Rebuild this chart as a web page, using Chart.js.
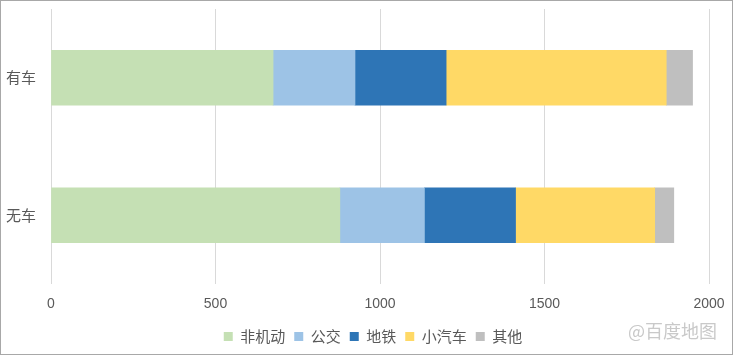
<!DOCTYPE html>
<html>
<head>
<meta charset="utf-8">
<script src="https://cdn.jsdelivr.net/npm/chart.js@4"></script>
<style>
	body { margin: 0; background: #fff; }
	#wrap { position: relative; width: 733px; height: 355px; box-sizing: border-box; border: 1px solid #a8a8a8; }
	#mark { position: absolute; left: 627px; top: 316px; font: 18px "Noto Sans CJK SC"; color: #c9c9c9; }
</style>
</head>
<body>
<div id="wrap">
	<canvas id="mycanvas" width="731" height="353"></canvas>
	<div id="mark">@百度地图</div>
</div>
<script>
var categories = ['有车', '无车'];
var seriesNames = ['非机动', '公交', '地铁', '小汽车', '其他'];
var nonMotor = [675, 878];
var bus = [249, 257];
var metro = [277, 277];
var car = [669, 423];
var other = [80, 58];
var xTicks = [0, 500, 1000, 1500, 2000];

var colors = ['#C5E0B4', '#9DC3E6', '#2E75B6', '#FFD966', '#BFBFBF'];
var values = [nonMotor, bus, metro, car, other];

var datasets = [];
for (var i in seriesNames) {
	datasets.push({
		label: seriesNames[i],
		data: values[i],
		backgroundColor: colors[i],
		borderWidth: 0,
		barThickness: 55
	});
}

var font = { family: '"Noto Sans CJK SC", "Noto Sans", sans-serif', size: 15 };

// nudge the legend right a bit, like the original
var legendShift = {
	id: 'legendShift',
	afterLayout: function(chart) {
		chart.legend.left += 18;
		chart.legend.right += 18;
	}
};

var ctx = document.getElementById('mycanvas');
var barGraph = new Chart(ctx, {
	type: 'bar',
	data: { labels: categories, datasets: datasets },
	plugins: [legendShift],
	options: {
		indexAxis: 'y',
		responsive: false,
		animation: false,
		layout: { padding: { left: 0, right: 23, top: 8, bottom: 0 } },
		plugins: {
			tooltip: { enabled: false },
			legend: {
				position: 'bottom',
				labels: { boxWidth: 9, boxHeight: 9, padding: 9, color: '#595959', font: font }
			}
		},
		scales: {
			x: {
				stacked: true,
				min: 0,
				max: 2000,
				afterBuildTicks: function(scale) {
					scale.ticks = xTicks.map(function(v) { return { value: v }; });
				},
				afterFit: function(scale) {
					scale.height = 36;
					scale.paddingLeft = 0;
					scale.paddingRight = 0;
				},
				grid: { color: '#d9d9d9', drawTicks: false },
				border: { display: false },
				ticks: {
					color: '#595959', padding: 12,
					font: { family: '"Liberation Sans Narrow", "Liberation Sans", sans-serif', size: 14 },
					callback: function(v) { return String(v); }
				}
			},
			y: {
				stacked: true,
				afterFit: function(scale) {
					scale.width = 50;
					scale.paddingTop = 0;
					scale.paddingBottom = 0;
				},
				grid: { display: false },
				border: { display: false },
				ticks: { color: '#595959', padding: 7, font: font }
			}
		}
	}
});
</script>
</body>
</html>
